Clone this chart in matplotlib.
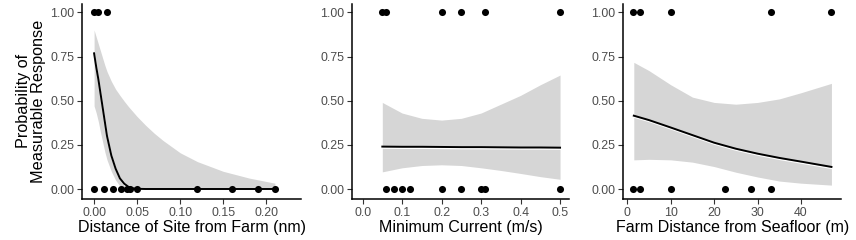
"""Probability of measurable response vs. three site predictors."""

import matplotlib

matplotlib.use("Agg")

import matplotlib.pyplot as plt
import matplotlib.patheffects as pe

plt.rcParams["font.family"] = ["Liberation Sans", "DejaVu Sans"]

# panel 1: distance of site from farm (nm)
dist_resp = [0.0, 0.004, 0.015]
dist_none = [0.0, 0.012, 0.022, 0.031, 0.038, 0.042, 0.05, 0.12, 0.16, 0.19, 0.21]
dist_x = [0.0, 0.0025, 0.005, 0.0075, 0.01, 0.0125, 0.015, 0.02, 0.025, 0.03,
          0.035, 0.04, 0.045, 0.05, 0.06, 0.07, 0.08, 0.09, 0.10, 0.12, 0.15, 0.18, 0.21]
dist_fit = [0.768, 0.69, 0.62, 0.54, 0.46, 0.38, 0.30, 0.19, 0.115, 0.06,
            0.03, 0.012, 0.004, 0.001, 0.0, 0.0, 0.0, 0.0, 0.0, 0.0, 0.0, 0.0, 0.0]
dist_hi = [0.90, 0.86, 0.82, 0.78, 0.74, 0.70, 0.665, 0.61, 0.565, 0.53,
           0.497, 0.466, 0.438, 0.41, 0.36, 0.315, 0.275, 0.24, 0.205, 0.155,
           0.100, 0.062, 0.033]
dist_lo = [0.47, 0.43, 0.38, 0.32, 0.265, 0.21, 0.165, 0.10, 0.05, 0.017,
           0.004, 0.001, 0.0, 0.0, 0.0, 0.0, 0.0, 0.0, 0.0, 0.0, 0.0, 0.0, 0.0]

# panel 2: minimum current (m/s)
cur_resp = [0.05, 0.06, 0.20, 0.25, 0.31, 0.50]
cur_none = [0.06, 0.08, 0.10, 0.12, 0.20, 0.25, 0.30, 0.31, 0.50]
cur_x = [0.05, 0.10, 0.15, 0.20, 0.25, 0.30, 0.35, 0.40, 0.45, 0.50]
cur_fit = [0.240, 0.239, 0.239, 0.238, 0.237, 0.237, 0.236, 0.235, 0.235, 0.234]
cur_hi = [0.49, 0.43, 0.40, 0.39, 0.40, 0.43, 0.48, 0.53, 0.59, 0.645]
cur_lo = [0.097, 0.12, 0.133, 0.137, 0.133, 0.12, 0.105, 0.088, 0.07, 0.055]

# panel 3: farm distance from seafloor (m)
sea_resp = [1.2, 3.0, 10.0, 33.0, 47.0]
sea_none = [1.2, 3.0, 10.0, 22.5, 28.5, 33.0]
sea_x = [1.5, 5, 10, 15, 20, 25, 30, 35, 40, 47]
sea_fit = [0.415, 0.39, 0.348, 0.305, 0.262, 0.228, 0.200, 0.176, 0.155, 0.125]
sea_hi = [0.717, 0.67, 0.59, 0.52, 0.49, 0.48, 0.49, 0.51, 0.545, 0.598]
sea_lo = [0.165, 0.168, 0.165, 0.152, 0.127, 0.095, 0.068, 0.045, 0.033, 0.022]

y_ticks = [0.0, 0.25, 0.5, 0.75, 1.0]

panels = [
    dict(resp=dist_resp, none=dist_none, x=dist_x, fit=dist_fit, hi=dist_hi, lo=dist_lo,
         xlim=(-0.0137, 0.240), xticks=[0.0, 0.05, 0.10, 0.15, 0.20], fmt="{:.2f}",
         label="Distance of Site from Farm (nm)", left=82.3, right=300.7),
    dict(resp=cur_resp, none=cur_none, x=cur_x, fit=cur_fit, hi=cur_hi, lo=cur_lo,
         xlim=(-0.026, 0.5234), xticks=[0.0, 0.1, 0.2, 0.3, 0.4, 0.5], fmt="{:.1f}",
         label="Minimum Current (m/s)", left=352.3, right=569.3),
    dict(resp=sea_resp, none=sea_none, x=sea_x, fit=sea_fit, hi=sea_hi, lo=sea_lo,
         xlim=(-0.92, 49.2), xticks=[0, 10, 20, 30, 40], fmt="{:.0f}",
         label="Farm Distance from Seafloor (m)", left=623.3, right=841.0),
]

W, H = 856, 240
fig = plt.figure(figsize=(W / 100, H / 100), dpi=100)
top, bottom = 3.5, 199.0

for i, p in enumerate(panels):
    ax = fig.add_axes([p["left"] / W, 1 - bottom / H,
                       (p["right"] - p["left"]) / W, (bottom - top) / H])
    ax.fill_between(p["x"], p["lo"], p["hi"], color="#d6d6d6", lw=0, zorder=1)
    ax.plot(p["x"], p["fit"], color="black", lw=1.4, zorder=2,
            path_effects=[pe.SimpleLineShadow(offset=(0.4, -1.1), shadow_color="white",
                                              alpha=1, linewidth=1.0),
                          pe.Normal()])
    ax.scatter(p["resp"], [1.0] * len(p["resp"]), s=26, color="black", zorder=3, lw=0)
    ax.scatter(p["none"], [0.0] * len(p["none"]), s=26, color="black", zorder=3, lw=0)

    ax.set_xlim(*p["xlim"])
    ax.set_ylim(-0.0566, 1.05)
    ax.set_xticks(p["xticks"])
    ax.set_xticklabels([p["fmt"].format(t) for t in p["xticks"]])
    ax.set_yticks(y_ticks)
    ax.set_yticklabels([f"{t:.2f}" for t in y_ticks])
    ax.tick_params(colors="#333333", labelcolor="#4d4d4d", labelsize=8.9,
                   length=3.5, width=0.8, pad=2)
    for side in ("top", "right"):
        ax.spines[side].set_visible(False)
    for side in ("left", "bottom"):
        ax.spines[side].set_linewidth(1.1)
        ax.spines[side].set_color("black")
    ax.set_xlabel(p["label"], fontsize=11.5, color="black", labelpad=1)
    if i == 0:
        ax.set_ylabel("Probability of\nMeasurable Response", fontsize=11.7,
                      color="black", labelpad=3, linespacing=1.05)

fig.savefig("out.png", dpi=100)
